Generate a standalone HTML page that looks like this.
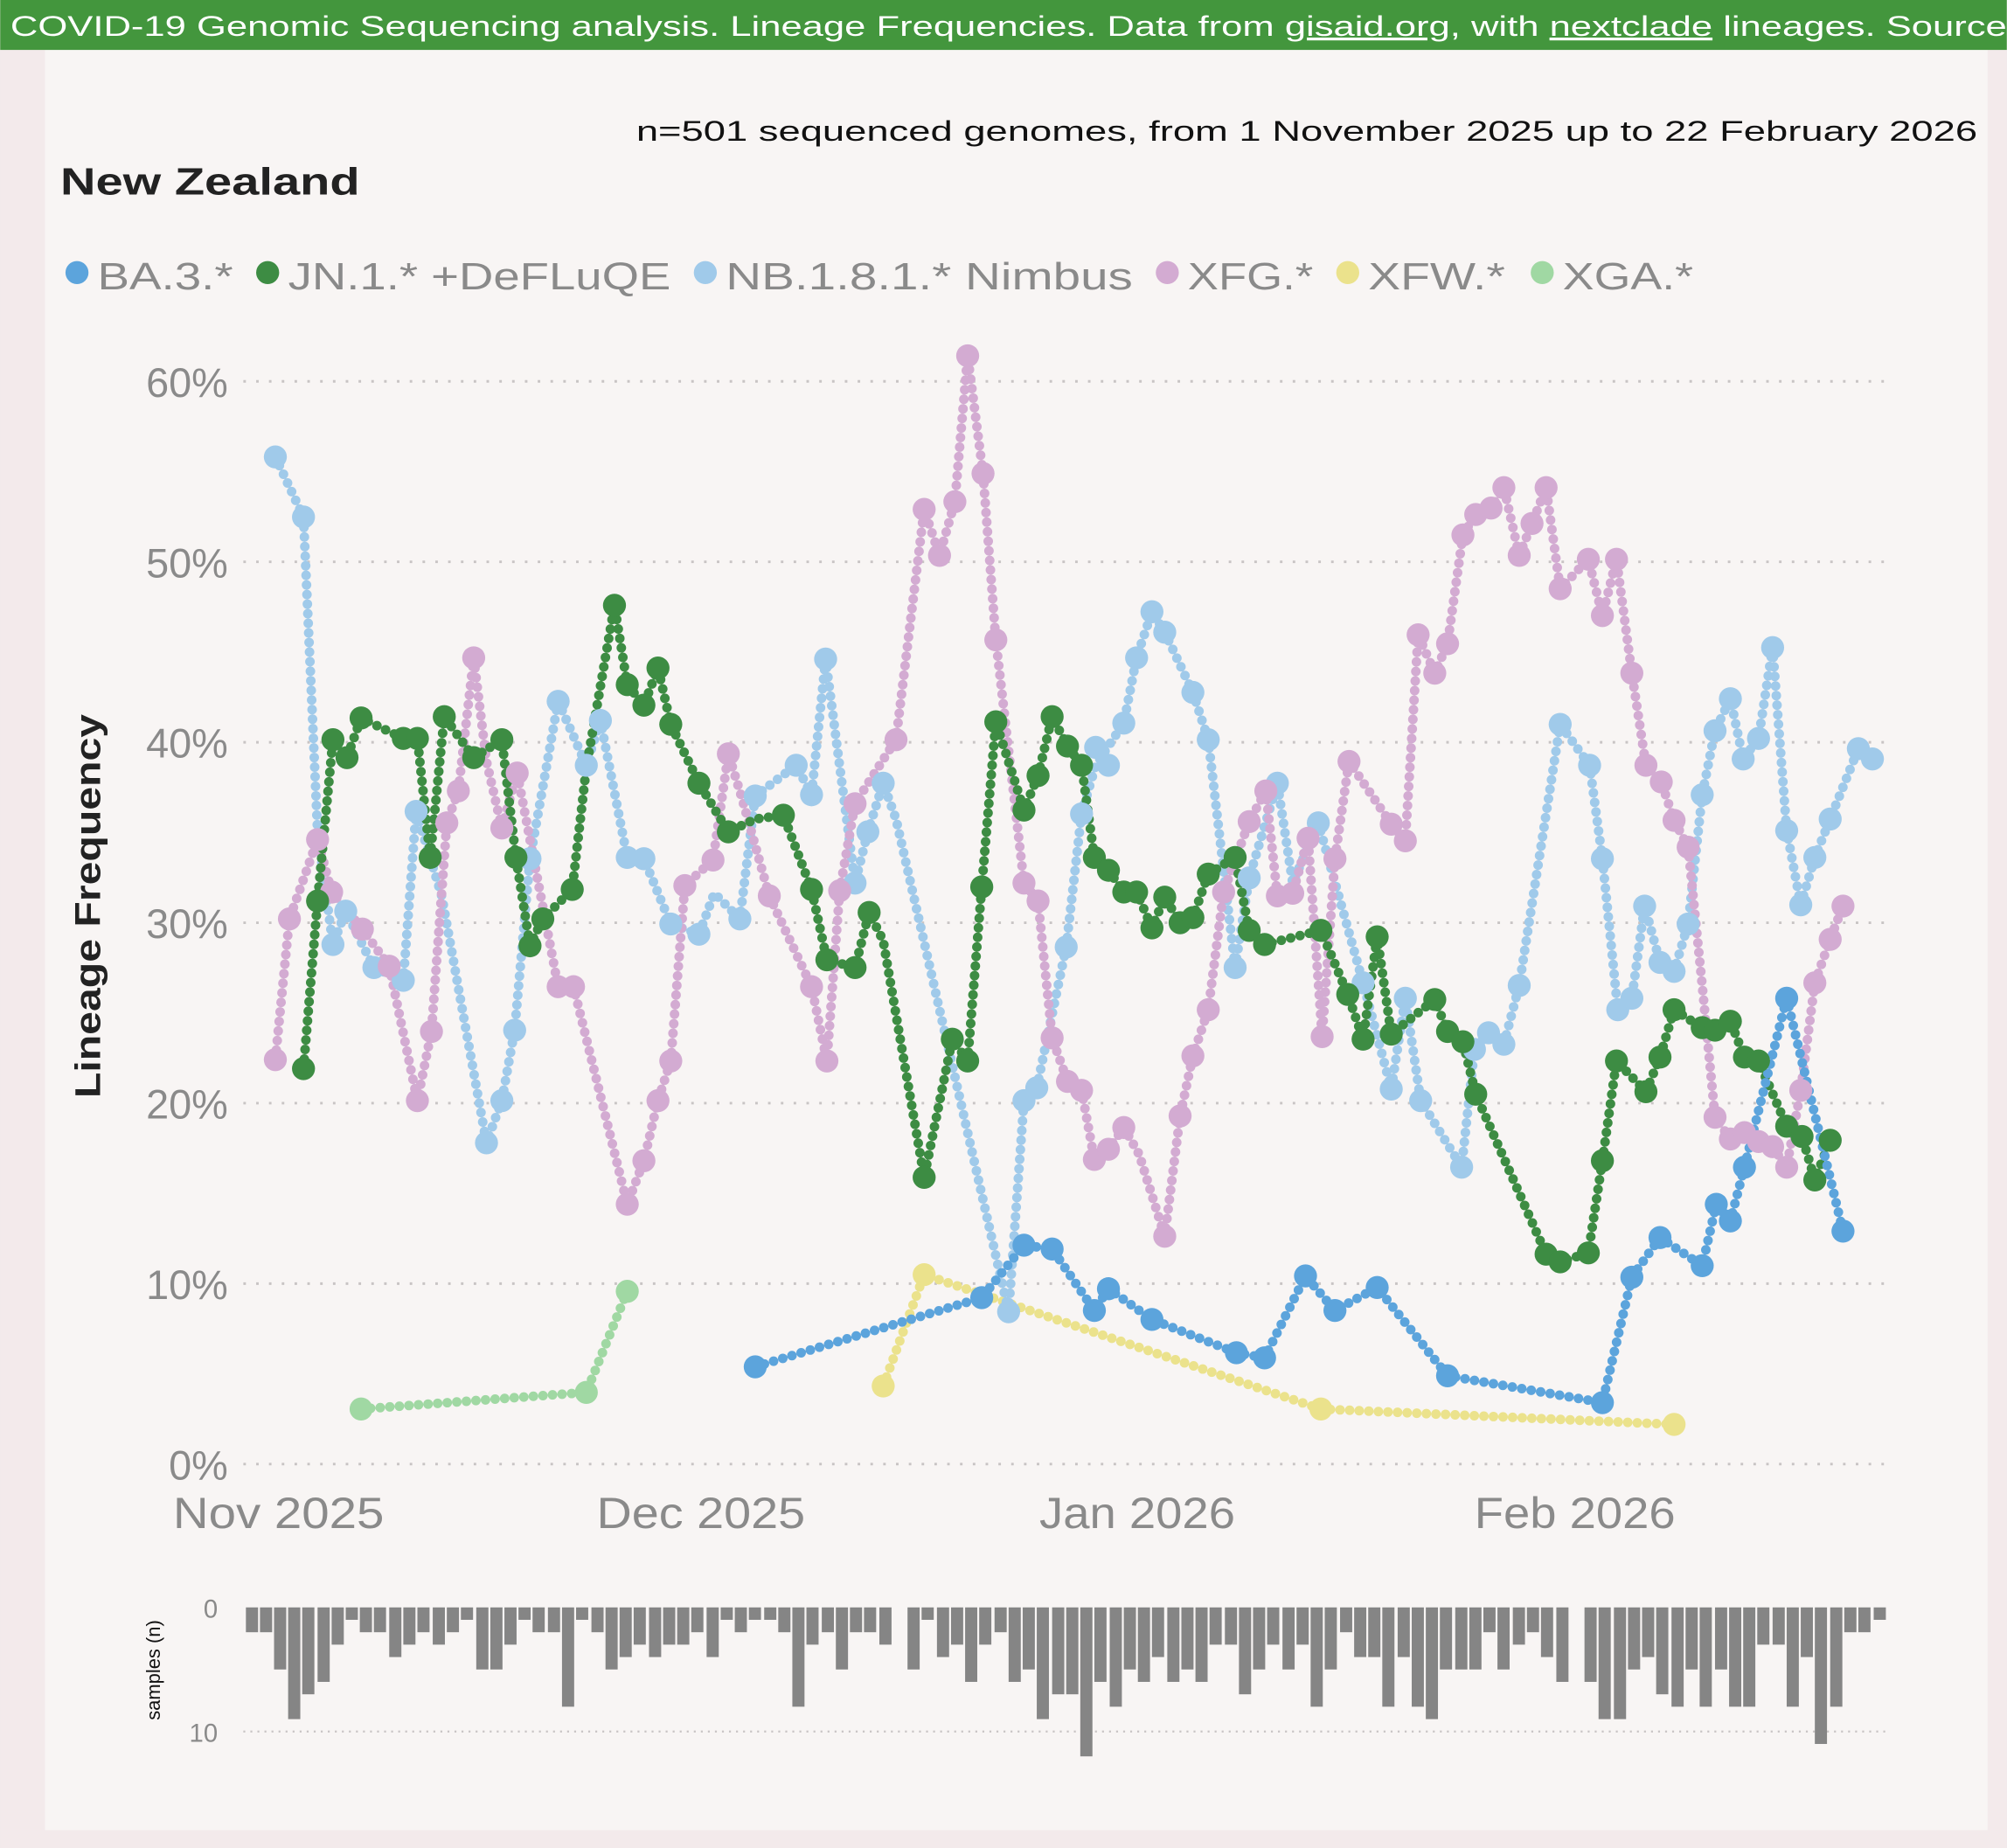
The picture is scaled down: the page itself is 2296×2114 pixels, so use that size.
<!DOCTYPE html>
<html><head><meta charset="utf-8"><style>
html,body{margin:0;padding:0;background:#f3eaeb;}
svg{display:block;}
text{font-family:"Liberation Sans",sans-serif;}
</style></head><body>
<svg width="2296" height="2114" viewBox="0 0 1568 1444" xmlns="http://www.w3.org/2000/svg">
<rect x="0" y="0" width="1568" height="1444" fill="#f3eaeb"/>
<rect x="35" y="38" width="1518" height="1392" fill="#f8f5f4"/>
<rect x="0" y="0" width="1568" height="39" fill="#43963d"/>
<text x="8" y="28" font-size="22" fill="#fff" textLength="1560" lengthAdjust="spacingAndGlyphs">COVID-19 Genomic Sequencing analysis. Lineage Frequencies. Data from <tspan text-decoration="underline">gisaid.org</tspan>, with <tspan text-decoration="underline">nextclade</tspan> lineages. Source</text>
<text x="1545" y="110" font-size="22" fill="#111" text-anchor="end" textLength="1048" lengthAdjust="spacingAndGlyphs">n=501 sequenced genomes, from 1 November 2025 up to 22 February 2026</text>
<text x="47" y="152" font-size="30" fill="#222" font-weight="bold" textLength="234" lengthAdjust="spacingAndGlyphs">New Zealand</text>
<g font-size="30" fill="#8a8a8a">
<circle cx="60" cy="213" r="9" fill="#5ca4dc"/><text x="76" y="226" textLength="106" lengthAdjust="spacingAndGlyphs">BA.3.*</text>
<circle cx="209" cy="213" r="9" fill="#3d8c43"/><text x="225" y="226" textLength="299" lengthAdjust="spacingAndGlyphs">JN.1.* +DeFLuQE</text>
<circle cx="551" cy="213" r="9" fill="#a0caea"/><text x="567" y="226" textLength="318" lengthAdjust="spacingAndGlyphs">NB.1.8.1.* Nimbus</text>
<circle cx="912" cy="213" r="9" fill="#d3abd2"/><text x="928" y="226" textLength="98" lengthAdjust="spacingAndGlyphs">XFG.*</text>
<circle cx="1053" cy="213" r="9" fill="#ebe28c"/><text x="1069" y="226" textLength="107" lengthAdjust="spacingAndGlyphs">XFW.*</text>
<circle cx="1205" cy="213" r="9" fill="#a0d8a3"/><text x="1221" y="226" textLength="102" lengthAdjust="spacingAndGlyphs">XGA.*</text>
</g>
<g stroke="#c8c4c4" stroke-width="2" stroke-dasharray="2 8">
<line x1="190" y1="298" x2="1475" y2="298"/><line x1="190" y1="439" x2="1475" y2="439"/>
<line x1="190" y1="580" x2="1475" y2="580"/><line x1="190" y1="721" x2="1475" y2="721"/>
<line x1="190" y1="862" x2="1475" y2="862"/><line x1="190" y1="1003" x2="1475" y2="1003"/>
<line x1="190" y1="1144" x2="1475" y2="1144"/>
</g>
<g font-size="32" fill="#8a8a8a" text-anchor="end">
<text x="178" y="310">60%</text><text x="178" y="451">50%</text><text x="178" y="592">40%</text>
<text x="178" y="733">30%</text><text x="178" y="874">20%</text><text x="178" y="1015">10%</text><text x="178" y="1156">0%</text>
</g>
<g font-size="34" fill="#8a8a8a">
<text x="135" y="1194" textLength="165" lengthAdjust="spacingAndGlyphs">Nov 2025</text><text x="466" y="1194" textLength="163" lengthAdjust="spacingAndGlyphs">Dec 2025</text><text x="812" y="1194" textLength="153" lengthAdjust="spacingAndGlyphs">Jan 2026</text><text x="1152" y="1194" textLength="157" lengthAdjust="spacingAndGlyphs">Feb 2026</text>
</g>
<text transform="translate(78,708) rotate(-90)" font-size="28" fill="#222" font-weight="bold" text-anchor="middle" textLength="300" lengthAdjust="spacingAndGlyphs">Lineage Frequency</text>

<g fill="none" stroke-linecap="round" stroke-linejoin="round" stroke-width="7.5" stroke-dasharray="0 7.5">
<path stroke="#a0d8a3" d="M282,1101 L458,1088 L490,1009"/>
<path stroke="#ebe28c" d="M690,1083 L722,996 L1032,1101 L1308,1113"/>
<path stroke="#a0caea" d="M215,357 L237,404 L248,650 L260,738 L270,712 L292,756 L315,766 L325,634 L345,700 L380,893 L392,860 L402,805 L414,671 L436,548 L458,598 L469,563 L490,670 L503,671 L524,722 L546,730 L558,698 L578,718 L590,622 L622,598 L634,621 L645,515 L668,690 L678,650 L690,612 L700,640 L788,1025 L800,860 L810,850 L833,740 L845,636 L856,598 L878,565 L888,514 L900,478 L910,494 L932,541 L944,578 L965,756 L976,686 L998,612 L1010,690 L1030,643 L1065,768 L1087,851 L1098,780 L1110,860 L1142,912 L1152,820 L1163,807 L1175,816 L1187,770 L1219,566 L1242,598 L1252,671 L1264,789 L1275,780 L1285,708 L1297,752 L1308,759 L1319,722 L1330,621 L1340,571 L1352,546 L1362,593 L1374,577 L1385,506 L1396,649 L1407,707 L1418,670 L1430,640 L1452,585 L1463,593"/>
<path stroke="#d3abd2" d="M215,828 L226,718 L248,656 L259,697 L283,726 L304,755 L326,860 L337,806 L349,643 L358,618 L370,514 L380,595 L392,647 L404,604 L436,771 L448,771 L490,941 L503,907 L514,860 L524,829 L535,692 L557,672 L569,589 L580,625 L601,700 L634,771 L646,829 L656,696 L668,628 L700,578 L722,398 L734,434 L746,392 L756,278 L768,370 L778,500 L800,690 L811,704 L822,811 L834,845 L845,852 L855,906 L866,898 L878,881 L890,902 L910,966 L922,872 L932,825 L944,789 L956,697 L976,642 L989,618 L998,700 L1010,698 L1022,655 L1033,810 L1043,671 L1054,595 L1087,644 L1098,657 L1108,496 L1121,526 L1131,503 L1143,418 L1153,402 L1165,397 L1175,381 L1187,434 L1197,409 L1208,381 L1219,460 L1241,437 L1252,481 L1263,437 L1275,526 L1286,598 L1298,611 L1308,641 L1319,662 L1330,770 L1340,873 L1352,890 L1363,885 L1374,892 L1385,896 L1396,912 L1407,852 L1418,768 L1430,734 L1440,708"/>
<path stroke="#3d8c43" d="M237,835 L248,704 L260,578 L271,592 L282,561 L315,577 L326,577 L336,670 L347,560 L370,592 L392,578 L403,670 L414,739 L424,718 L447,695 L458,600 L480,473 L490,535 L503,551 L514,522 L524,566 L546,612 L569,650 L590,640 L612,637 L634,695 L646,750 L668,756 L679,713 L690,735 L722,920 L744,812 L756,829 L767,693 L778,564 L800,633 L811,606 L822,560 L834,583 L845,598 L855,670 L866,680 L878,697 L888,697 L900,725 L910,701 L922,721 L932,717 L944,683 L965,670 L976,727 L988,738 L1032,727 L1053,777 L1065,812 L1076,732 L1087,808 L1121,781 L1131,806 L1143,814 L1153,855 L1208,980 L1219,986 L1241,979 L1252,907 L1263,829 L1286,853 L1297,826 L1308,789 L1330,803 L1340,805 L1352,798 L1363,826 L1374,829 L1396,880 L1408,888 L1418,922 L1430,891"/>
<path stroke="#5ca4dc" d="M590,1068 L767,1014 L800,973 L822,976 L855,1024 L866,1007 L900,1031 L966,1057 L988,1061 L1020,997 L1043,1024 L1076,1006 L1131,1075 L1252,1096 L1275,998 L1297,967 L1330,989 L1341,941 L1352,954 L1363,912 L1396,780 L1440,962"/>
</g>
<g>
<g fill="#a0d8a3"><circle cx="282" cy="1101" r="9"/><circle cx="458" cy="1088" r="9"/><circle cx="490" cy="1009" r="9"/></g>
<g fill="#ebe28c"><circle cx="690" cy="1083" r="9"/><circle cx="722" cy="996" r="9"/><circle cx="1032" cy="1101" r="9"/><circle cx="1308" cy="1113" r="9"/></g>
<g fill="#a0caea"><circle cx="215" cy="357" r="9"/><circle cx="237" cy="404" r="9"/><circle cx="260" cy="738" r="9"/><circle cx="270" cy="712" r="9"/><circle cx="292" cy="756" r="9"/><circle cx="315" cy="766" r="9"/><circle cx="325" cy="634" r="9"/><circle cx="380" cy="893" r="9"/><circle cx="392" cy="860" r="9"/><circle cx="402" cy="805" r="9"/><circle cx="414" cy="671" r="9"/><circle cx="436" cy="548" r="9"/><circle cx="458" cy="598" r="9"/><circle cx="469" cy="563" r="9"/><circle cx="490" cy="670" r="9"/><circle cx="503" cy="671" r="9"/><circle cx="524" cy="722" r="9"/><circle cx="546" cy="730" r="9"/><circle cx="578" cy="718" r="9"/><circle cx="590" cy="622" r="9"/><circle cx="622" cy="598" r="9"/><circle cx="634" cy="621" r="9"/><circle cx="645" cy="515" r="9"/><circle cx="668" cy="690" r="9"/><circle cx="678" cy="650" r="9"/><circle cx="690" cy="612" r="9"/><circle cx="788" cy="1025" r="9"/><circle cx="800" cy="860" r="9"/><circle cx="810" cy="850" r="9"/><circle cx="833" cy="740" r="9"/><circle cx="845" cy="636" r="9"/><circle cx="856" cy="584" r="9"/><circle cx="866" cy="598" r="9"/><circle cx="878" cy="565" r="9"/><circle cx="888" cy="514" r="9"/><circle cx="900" cy="478" r="9"/><circle cx="910" cy="494" r="9"/><circle cx="932" cy="541" r="9"/><circle cx="944" cy="578" r="9"/><circle cx="965" cy="756" r="9"/><circle cx="976" cy="686" r="9"/><circle cx="998" cy="612" r="9"/><circle cx="1030" cy="643" r="9"/><circle cx="1065" cy="768" r="9"/><circle cx="1087" cy="851" r="9"/><circle cx="1098" cy="780" r="9"/><circle cx="1110" cy="860" r="9"/><circle cx="1142" cy="912" r="9"/><circle cx="1152" cy="820" r="9"/><circle cx="1163" cy="807" r="9"/><circle cx="1175" cy="816" r="9"/><circle cx="1187" cy="770" r="9"/><circle cx="1219" cy="566" r="9"/><circle cx="1242" cy="598" r="9"/><circle cx="1252" cy="671" r="9"/><circle cx="1264" cy="789" r="9"/><circle cx="1275" cy="780" r="9"/><circle cx="1285" cy="708" r="9"/><circle cx="1297" cy="752" r="9"/><circle cx="1308" cy="759" r="9"/><circle cx="1319" cy="722" r="9"/><circle cx="1330" cy="621" r="9"/><circle cx="1340" cy="571" r="9"/><circle cx="1352" cy="546" r="9"/><circle cx="1362" cy="593" r="9"/><circle cx="1374" cy="577" r="9"/><circle cx="1385" cy="506" r="9"/><circle cx="1396" cy="649" r="9"/><circle cx="1407" cy="707" r="9"/><circle cx="1418" cy="670" r="9"/><circle cx="1430" cy="640" r="9"/><circle cx="1452" cy="585" r="9"/><circle cx="1463" cy="593" r="9"/></g>
<g fill="#d3abd2"><circle cx="215" cy="828" r="9"/><circle cx="226" cy="718" r="9"/><circle cx="248" cy="656" r="9"/><circle cx="259" cy="697" r="9"/><circle cx="283" cy="726" r="9"/><circle cx="304" cy="755" r="9"/><circle cx="326" cy="860" r="9"/><circle cx="337" cy="806" r="9"/><circle cx="349" cy="643" r="9"/><circle cx="358" cy="618" r="9"/><circle cx="370" cy="514" r="9"/><circle cx="392" cy="647" r="9"/><circle cx="404" cy="604" r="9"/><circle cx="436" cy="771" r="9"/><circle cx="448" cy="771" r="9"/><circle cx="490" cy="941" r="9"/><circle cx="503" cy="907" r="9"/><circle cx="514" cy="860" r="9"/><circle cx="524" cy="829" r="9"/><circle cx="535" cy="692" r="9"/><circle cx="557" cy="672" r="9"/><circle cx="569" cy="589" r="9"/><circle cx="601" cy="700" r="9"/><circle cx="634" cy="771" r="9"/><circle cx="646" cy="829" r="9"/><circle cx="656" cy="696" r="9"/><circle cx="668" cy="628" r="9"/><circle cx="700" cy="578" r="9"/><circle cx="722" cy="398" r="9"/><circle cx="734" cy="434" r="9"/><circle cx="746" cy="392" r="9"/><circle cx="756" cy="278" r="9"/><circle cx="768" cy="370" r="9"/><circle cx="778" cy="500" r="9"/><circle cx="800" cy="690" r="9"/><circle cx="811" cy="704" r="9"/><circle cx="822" cy="811" r="9"/><circle cx="834" cy="845" r="9"/><circle cx="845" cy="852" r="9"/><circle cx="855" cy="906" r="9"/><circle cx="866" cy="898" r="9"/><circle cx="878" cy="881" r="9"/><circle cx="910" cy="966" r="9"/><circle cx="922" cy="872" r="9"/><circle cx="932" cy="825" r="9"/><circle cx="944" cy="789" r="9"/><circle cx="956" cy="697" r="9"/><circle cx="976" cy="642" r="9"/><circle cx="989" cy="618" r="9"/><circle cx="998" cy="700" r="9"/><circle cx="1010" cy="698" r="9"/><circle cx="1022" cy="655" r="9"/><circle cx="1033" cy="810" r="9"/><circle cx="1043" cy="671" r="9"/><circle cx="1054" cy="595" r="9"/><circle cx="1087" cy="644" r="9"/><circle cx="1098" cy="657" r="9"/><circle cx="1108" cy="496" r="9"/><circle cx="1121" cy="526" r="9"/><circle cx="1131" cy="503" r="9"/><circle cx="1143" cy="418" r="9"/><circle cx="1153" cy="402" r="9"/><circle cx="1165" cy="397" r="9"/><circle cx="1175" cy="381" r="9"/><circle cx="1187" cy="434" r="9"/><circle cx="1197" cy="409" r="9"/><circle cx="1208" cy="381" r="9"/><circle cx="1219" cy="460" r="9"/><circle cx="1241" cy="437" r="9"/><circle cx="1252" cy="481" r="9"/><circle cx="1263" cy="437" r="9"/><circle cx="1275" cy="526" r="9"/><circle cx="1286" cy="598" r="9"/><circle cx="1298" cy="611" r="9"/><circle cx="1308" cy="641" r="9"/><circle cx="1319" cy="662" r="9"/><circle cx="1340" cy="873" r="9"/><circle cx="1352" cy="890" r="9"/><circle cx="1363" cy="885" r="9"/><circle cx="1374" cy="892" r="9"/><circle cx="1385" cy="896" r="9"/><circle cx="1396" cy="912" r="9"/><circle cx="1407" cy="852" r="9"/><circle cx="1418" cy="768" r="9"/><circle cx="1430" cy="734" r="9"/><circle cx="1440" cy="708" r="9"/></g>
<g fill="#3d8c43"><circle cx="237" cy="835" r="9"/><circle cx="248" cy="704" r="9"/><circle cx="260" cy="578" r="9"/><circle cx="271" cy="592" r="9"/><circle cx="282" cy="561" r="9"/><circle cx="315" cy="577" r="9"/><circle cx="326" cy="577" r="9"/><circle cx="336" cy="670" r="9"/><circle cx="347" cy="560" r="9"/><circle cx="370" cy="592" r="9"/><circle cx="392" cy="578" r="9"/><circle cx="403" cy="670" r="9"/><circle cx="414" cy="739" r="9"/><circle cx="424" cy="718" r="9"/><circle cx="447" cy="695" r="9"/><circle cx="480" cy="473" r="9"/><circle cx="490" cy="535" r="9"/><circle cx="503" cy="551" r="9"/><circle cx="514" cy="522" r="9"/><circle cx="524" cy="566" r="9"/><circle cx="546" cy="612" r="9"/><circle cx="569" cy="650" r="9"/><circle cx="612" cy="637" r="9"/><circle cx="634" cy="695" r="9"/><circle cx="646" cy="750" r="9"/><circle cx="668" cy="756" r="9"/><circle cx="679" cy="713" r="9"/><circle cx="722" cy="920" r="9"/><circle cx="744" cy="812" r="9"/><circle cx="756" cy="829" r="9"/><circle cx="767" cy="693" r="9"/><circle cx="778" cy="564" r="9"/><circle cx="800" cy="633" r="9"/><circle cx="811" cy="606" r="9"/><circle cx="822" cy="560" r="9"/><circle cx="834" cy="583" r="9"/><circle cx="845" cy="598" r="9"/><circle cx="855" cy="670" r="9"/><circle cx="866" cy="680" r="9"/><circle cx="878" cy="697" r="9"/><circle cx="888" cy="697" r="9"/><circle cx="900" cy="725" r="9"/><circle cx="910" cy="701" r="9"/><circle cx="922" cy="721" r="9"/><circle cx="932" cy="717" r="9"/><circle cx="944" cy="683" r="9"/><circle cx="965" cy="670" r="9"/><circle cx="976" cy="727" r="9"/><circle cx="988" cy="738" r="9"/><circle cx="1032" cy="727" r="9"/><circle cx="1053" cy="777" r="9"/><circle cx="1065" cy="812" r="9"/><circle cx="1076" cy="732" r="9"/><circle cx="1087" cy="808" r="9"/><circle cx="1121" cy="781" r="9"/><circle cx="1131" cy="806" r="9"/><circle cx="1143" cy="814" r="9"/><circle cx="1153" cy="855" r="9"/><circle cx="1208" cy="980" r="9"/><circle cx="1219" cy="986" r="9"/><circle cx="1241" cy="979" r="9"/><circle cx="1252" cy="907" r="9"/><circle cx="1263" cy="829" r="9"/><circle cx="1286" cy="853" r="9"/><circle cx="1297" cy="826" r="9"/><circle cx="1308" cy="789" r="9"/><circle cx="1330" cy="803" r="9"/><circle cx="1340" cy="805" r="9"/><circle cx="1352" cy="798" r="9"/><circle cx="1363" cy="826" r="9"/><circle cx="1374" cy="829" r="9"/><circle cx="1396" cy="880" r="9"/><circle cx="1408" cy="888" r="9"/><circle cx="1418" cy="922" r="9"/><circle cx="1430" cy="891" r="9"/></g>
<g fill="#5ca4dc"><circle cx="590" cy="1068" r="9"/><circle cx="767" cy="1014" r="9"/><circle cx="800" cy="973" r="9"/><circle cx="822" cy="976" r="9"/><circle cx="855" cy="1024" r="9"/><circle cx="866" cy="1007" r="9"/><circle cx="900" cy="1031" r="9"/><circle cx="966" cy="1057" r="9"/><circle cx="988" cy="1061" r="9"/><circle cx="1020" cy="997" r="9"/><circle cx="1043" cy="1024" r="9"/><circle cx="1076" cy="1006" r="9"/><circle cx="1131" cy="1075" r="9"/><circle cx="1252" cy="1096" r="9"/><circle cx="1275" cy="998" r="9"/><circle cx="1297" cy="967" r="9"/><circle cx="1330" cy="989" r="9"/><circle cx="1341" cy="941" r="9"/><circle cx="1352" cy="954" r="9"/><circle cx="1363" cy="912" r="9"/><circle cx="1396" cy="780" r="9"/><circle cx="1440" cy="962" r="9"/></g>
</g>

<line x1="190" y1="1353" x2="1475" y2="1353" stroke="#c8c4c4" stroke-width="1.5" stroke-dasharray="1.5 4"/>
<text x="170" y="1264" font-size="20" fill="#8a8a8a" text-anchor="end">0</text>
<text x="170" y="1361" font-size="20" fill="#8a8a8a" text-anchor="end">10</text>
<text transform="translate(125,1305) rotate(-90)" font-size="15" fill="#111" text-anchor="middle">samples (n)</text>
<g fill="#858585">
<rect x="192" y="1256" width="9.5" height="19.4"/><rect x="203" y="1256" width="9.5" height="19.4"/><rect x="214" y="1256" width="9.5" height="48.5"/><rect x="225" y="1256" width="9.5" height="87.3"/><rect x="236" y="1256" width="9.5" height="67.9"/><rect x="248" y="1256" width="9.5" height="58.2"/><rect x="259" y="1256" width="9.5" height="29.1"/><rect x="270" y="1256" width="9.5" height="9.7"/><rect x="281" y="1256" width="9.5" height="19.4"/><rect x="292" y="1256" width="9.5" height="19.4"/>
<rect x="304" y="1256" width="9.5" height="38.8"/><rect x="315" y="1256" width="9.5" height="29.1"/><rect x="326" y="1256" width="9.5" height="19.4"/><rect x="338" y="1256" width="9.5" height="29.1"/><rect x="349" y="1256" width="9.5" height="19.4"/><rect x="360" y="1256" width="9.5" height="9.7"/><rect x="372" y="1256" width="9.5" height="48.5"/><rect x="383" y="1256" width="9.5" height="48.5"/><rect x="394" y="1256" width="9.5" height="29.1"/><rect x="405" y="1256" width="9.5" height="9.7"/>
<rect x="416" y="1256" width="9.5" height="19.4"/><rect x="428" y="1256" width="9.5" height="19.4"/><rect x="439" y="1256" width="9.5" height="77.6"/><rect x="450" y="1256" width="9.5" height="9.7"/><rect x="462" y="1256" width="9.5" height="19.4"/><rect x="473" y="1256" width="9.5" height="48.5"/><rect x="484" y="1256" width="9.5" height="38.8"/><rect x="495" y="1256" width="9.5" height="29.1"/><rect x="507" y="1256" width="9.5" height="38.8"/><rect x="518" y="1256" width="9.5" height="29.1"/>
<rect x="529" y="1256" width="9.5" height="29.1"/><rect x="540" y="1256" width="9.5" height="19.4"/><rect x="552" y="1256" width="9.5" height="38.8"/><rect x="563" y="1256" width="9.5" height="9.7"/><rect x="574" y="1256" width="9.5" height="19.4"/><rect x="585" y="1256" width="9.5" height="9.7"/><rect x="597" y="1256" width="9.5" height="9.7"/><rect x="608" y="1256" width="9.5" height="19.4"/><rect x="619" y="1256" width="9.5" height="77.6"/><rect x="630" y="1256" width="9.5" height="29.1"/>
<rect x="642" y="1256" width="9.5" height="19.4"/><rect x="653" y="1256" width="9.5" height="48.5"/><rect x="664" y="1256" width="9.5" height="19.4"/><rect x="675" y="1256" width="9.5" height="19.4"/><rect x="687" y="1256" width="9.5" height="29.1"/><rect x="709" y="1256" width="9.5" height="48.5"/><rect x="720" y="1256" width="9.5" height="9.7"/><rect x="732" y="1256" width="9.5" height="38.8"/><rect x="743" y="1256" width="9.5" height="29.1"/><rect x="754" y="1256" width="9.5" height="58.2"/>
<rect x="765" y="1256" width="9.5" height="29.1"/><rect x="777" y="1256" width="9.5" height="19.4"/><rect x="788" y="1256" width="9.5" height="58.2"/><rect x="799" y="1256" width="9.5" height="48.5"/><rect x="810" y="1256" width="9.5" height="87.3"/><rect x="822" y="1256" width="9.5" height="67.9"/><rect x="833" y="1256" width="9.5" height="67.9"/><rect x="844" y="1256" width="9.5" height="116.4"/><rect x="855" y="1256" width="9.5" height="58.2"/><rect x="867" y="1256" width="9.5" height="77.6"/>
<rect x="878" y="1256" width="9.5" height="48.5"/><rect x="889" y="1256" width="9.5" height="58.2"/><rect x="900" y="1256" width="9.5" height="38.8"/><rect x="912" y="1256" width="9.5" height="58.2"/><rect x="923" y="1256" width="9.5" height="48.5"/><rect x="934" y="1256" width="9.5" height="58.2"/><rect x="945" y="1256" width="9.5" height="29.1"/><rect x="957" y="1256" width="9.5" height="29.1"/><rect x="968" y="1256" width="9.5" height="67.9"/><rect x="979" y="1256" width="9.5" height="48.5"/>
<rect x="990" y="1256" width="9.5" height="29.1"/><rect x="1002" y="1256" width="9.5" height="48.5"/><rect x="1013" y="1256" width="9.5" height="29.1"/><rect x="1024" y="1256" width="9.5" height="77.6"/><rect x="1035" y="1256" width="9.5" height="48.5"/><rect x="1047" y="1256" width="9.5" height="19.4"/><rect x="1058" y="1256" width="9.5" height="38.8"/><rect x="1069" y="1256" width="9.5" height="38.8"/><rect x="1080" y="1256" width="9.5" height="77.6"/><rect x="1092" y="1256" width="9.5" height="38.8"/>
<rect x="1103" y="1256" width="9.5" height="77.6"/><rect x="1114" y="1256" width="9.5" height="87.3"/><rect x="1125" y="1256" width="9.5" height="48.5"/><rect x="1137" y="1256" width="9.5" height="48.5"/><rect x="1148" y="1256" width="9.5" height="48.5"/><rect x="1159" y="1256" width="9.5" height="19.4"/><rect x="1170" y="1256" width="9.5" height="48.5"/><rect x="1182" y="1256" width="9.5" height="29.1"/><rect x="1193" y="1256" width="9.5" height="19.4"/><rect x="1204" y="1256" width="9.5" height="38.8"/>
<rect x="1216" y="1256" width="9.5" height="58.2"/><rect x="1238" y="1256" width="9.5" height="58.2"/><rect x="1249" y="1256" width="9.5" height="87.3"/><rect x="1261" y="1256" width="9.5" height="87.3"/><rect x="1272" y="1256" width="9.5" height="48.5"/><rect x="1283" y="1256" width="9.5" height="38.8"/><rect x="1294" y="1256" width="9.5" height="67.9"/><rect x="1306" y="1256" width="9.5" height="77.6"/><rect x="1317" y="1256" width="9.5" height="48.5"/><rect x="1328" y="1256" width="9.5" height="77.6"/>
<rect x="1340" y="1256" width="9.5" height="48.5"/><rect x="1351" y="1256" width="9.5" height="77.6"/><rect x="1362" y="1256" width="9.5" height="77.6"/><rect x="1373" y="1256" width="9.5" height="29.1"/><rect x="1385" y="1256" width="9.5" height="29.1"/><rect x="1396" y="1256" width="9.5" height="77.6"/><rect x="1407" y="1256" width="9.5" height="38.8"/><rect x="1418" y="1256" width="9.5" height="106.7"/><rect x="1430" y="1256" width="9.5" height="77.6"/><rect x="1441" y="1256" width="9.5" height="19.4"/>
<rect x="1452" y="1256" width="9.5" height="19.4"/><rect x="1464" y="1256" width="9.5" height="9.7"/>
</g>
</svg>
</body></html>
